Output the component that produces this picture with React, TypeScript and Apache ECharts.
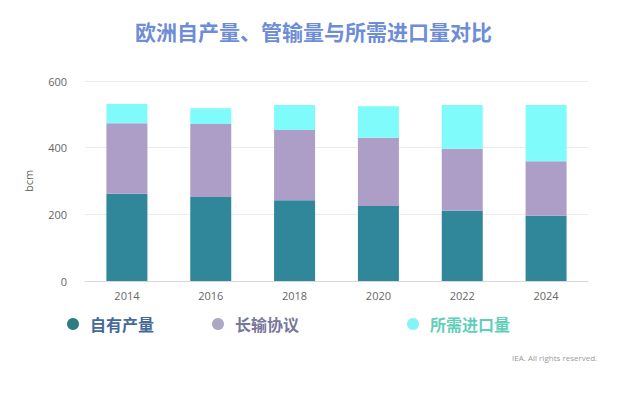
import React, { useEffect, useRef } from "react";
import * as echarts from "echarts";

const years = ["2014", "2016", "2018", "2020", "2022", "2024"];
const production = [262, 252, 242, 225, 211, 196];
const pipeline = [211, 219, 211, 205, 186, 163];
const imports = [58, 47, 75, 94, 131, 169];
const yTicks = { min: 0, max: 600, interval: 200 };

const seriesNames = ["自有产量", "长输协议", "所需进口量"];
const barColors = ["#2f8799", "#ac9ec6", "#80fbfb"];
const legendIconColors = ["#2b7d80", "#aca7c2", "#80f6f6"];
const legendTextColors = ["#44699a", "#77779a", "#5fcfb8"];
const legendLeft = [62, 207, 402];

const FONT = "'Noto Sans CJK SC', 'Noto Sans', sans-serif";

export default function App() {
  const ref = useRef<HTMLDivElement>(null);
  useEffect(() => {
    if (!ref.current) return;
    const chart = echarts.init(ref.current, null, { renderer: "svg" });
    const values = [production, pipeline, imports];
    chart.setOption({
      animation: false,
      backgroundColor: "#ffffff",
      title: {
        text: "欧洲自产量、管输量与所需进口量对比",
        left: 130,
        top: 15,
        textStyle: { fontFamily: FONT, fontSize: 21, fontWeight: "bold", color: "#6d8dd6" },
      },
      legend: seriesNames.map((n, i) => ({
        data: [{ name: n, itemStyle: { color: legendIconColors[i] } }],
        left: legendLeft[i],
        top: 311,
        icon: "circle",
        itemWidth: 12,
        itemHeight: 12,
        selectedMode: false,
        textStyle: {
          fontFamily: FONT,
          fontSize: 16,
          fontWeight: "bold",
          color: legendTextColors[i],
          padding: [0, 0, 0, 6],
        },
      })),
      grid: { left: 85, right: 52, top: 81, bottom: 113, containLabel: false },
      xAxis: {
        type: "category",
        data: years,
        axisLine: { lineStyle: { color: "#d5d8dc" } },
        axisTick: { alignWithLabel: true, length: 4, lineStyle: { color: "#c8c8c8" } },
        axisLabel: { color: "#666", fontSize: 11, margin: 9, fontFamily: "'Open Sans', sans-serif" },
      },
      yAxis: {
        type: "value",
        min: yTicks.min,
        max: yTicks.max,
        interval: yTicks.interval,
        name: "bcm",
        nameLocation: "middle",
        nameRotate: 90,
        nameGap: 51,
        nameTextStyle: { color: "#666", fontSize: 11, fontFamily: "'Open Sans', sans-serif" },
        axisLine: { show: false },
        axisTick: { show: false },
        axisLabel: { color: "#666", fontSize: 11, margin: 18, fontFamily: "'Open Sans', sans-serif" },
        splitLine: { lineStyle: { color: "#ebebeb" } },
      },
      series: seriesNames.map((n, i) => ({
        name: n,
        type: "bar",
        stack: "total",
        barWidth: 41,
        data: values[i],
        itemStyle: { color: barColors[i] },
      })),
      graphic: [
        {
          type: "text",
          left: 512,
          top: 353,
          style: {
            text: "IEA. All rights reserved.",
            fill: "#9a9a9a",
            fontSize: 8,
            fontFamily: "'Open Sans', sans-serif",
          },
        },
      ],
    });
    return () => chart.dispose();
  }, []);
  return <div ref={ref} style={{ width: 640, height: 394, position: "absolute", left: 0, top: 0 }} />;
}
